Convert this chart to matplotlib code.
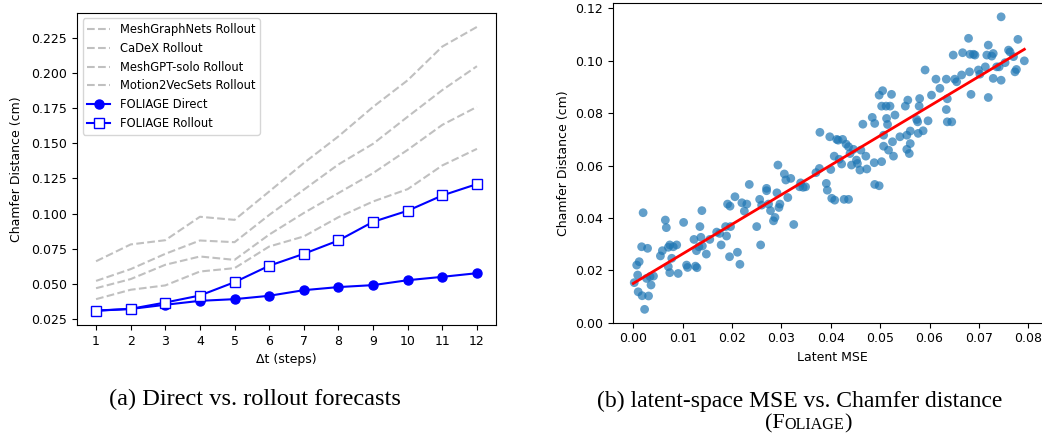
import matplotlib
matplotlib.use('Agg')
import matplotlib.pyplot as plt
from matplotlib.offsetbox import TextArea, HPacker, AnchoredOffsetbox

# left panel: error vs forecast horizon
steps = [1, 2, 3, 4, 5, 6, 7, 8, 9, 10, 11, 12]
meshgraphnets = [0.066, 0.078, 0.081, 0.0977, 0.0955, 0.1157, 0.136, 0.155, 0.176, 0.195, 0.219, 0.233]
cadex = [0.052, 0.0604, 0.0713, 0.0808, 0.0796, 0.099, 0.117, 0.135, 0.1497, 0.169, 0.188, 0.205]
meshgpt_solo = [0.0468, 0.0533, 0.0635, 0.0694, 0.067, 0.085, 0.1004, 0.1146, 0.1288, 0.1454, 0.1632, 0.176]
motion2vecsets = [0.039, 0.0457, 0.0488, 0.0587, 0.0611, 0.0765, 0.0837, 0.0974, 0.1086, 0.1174, 0.1343, 0.1461]
foliage_direct = [0.0309, 0.032, 0.035, 0.0378, 0.039, 0.0414, 0.0454, 0.0476, 0.049, 0.0525, 0.0549, 0.0575]
foliage_rollout = [0.0307, 0.0321, 0.0366, 0.0416, 0.0511, 0.0628, 0.0713, 0.0808, 0.0941, 0.102, 0.1129, 0.121]

# right panel: latent MSE vs chamfer distance
latent_mse = [
    0.0002, 0.0007, 0.0012, 0.0009, 0.001, 0.0018, 0.0023, 0.002, 0.0017, 0.0029,
    0.0031, 0.0027, 0.0036, 0.0041, 0.0034, 0.0055, 0.0059, 0.0065, 0.0067, 0.0071,
    0.0074, 0.0071, 0.0074, 0.0078, 0.0081, 0.0088, 0.0091, 0.0102, 0.0108, 0.011,
    0.0123, 0.0128, 0.0126, 0.0129, 0.0135, 0.0139, 0.0137, 0.0133, 0.014, 0.0148,
    0.0155, 0.0169, 0.0175, 0.0178, 0.0187, 0.0189, 0.0191, 0.0196, 0.0197, 0.0195,
    0.0206, 0.0211, 0.0216, 0.022, 0.0225, 0.023, 0.0235, 0.025, 0.0256, 0.0258,
    0.026, 0.027, 0.027, 0.0274, 0.0278, 0.0284, 0.0287, 0.0291, 0.0293, 0.0297,
    0.0295, 0.0306, 0.0309, 0.0313, 0.0319, 0.0325, 0.0337, 0.0339, 0.0344, 0.0349,
    0.037, 0.0378, 0.0377, 0.0391, 0.0393, 0.0398, 0.0402, 0.04, 0.0408, 0.0407,
    0.0412, 0.0415, 0.0417, 0.0422, 0.0424, 0.0427, 0.0431, 0.0436, 0.0436, 0.0439,
    0.0442, 0.0446, 0.0452, 0.0454, 0.0459, 0.0461, 0.0465, 0.0471, 0.0473, 0.0484,
    0.0488, 0.0489, 0.0489, 0.0498, 0.0498, 0.0503, 0.0505, 0.0503, 0.0507, 0.0507,
    0.0512, 0.0513, 0.0515, 0.0517, 0.052, 0.0523, 0.0525, 0.0527, 0.053, 0.054,
    0.0551, 0.0554, 0.0556, 0.0554, 0.0559, 0.0561, 0.0561, 0.0574, 0.0576, 0.0579,
    0.058, 0.0577, 0.0587, 0.0597, 0.0591, 0.0604, 0.0613, 0.0621, 0.0634, 0.0636,
    0.0634, 0.0636, 0.0645, 0.0648, 0.0651, 0.0655, 0.0665, 0.0667, 0.0679, 0.0682,
    0.0684, 0.0681, 0.0689, 0.0692, 0.0699, 0.0702, 0.0713, 0.0716, 0.0719, 0.0719,
    0.0726, 0.0729, 0.0729, 0.0741, 0.0745, 0.0745, 0.0753, 0.076, 0.0763, 0.077,
    0.0773, 0.0776, 0.0779, 0.0792, 0.0736]
chamfer = [
    0.0153, 0.022, 0.0233, 0.0182, 0.0118, 0.0103, 0.0051, 0.042, 0.029, 0.0284,
    0.0102, 0.0169, 0.0144, 0.0178, 0.0176, 0.0255, 0.0275, 0.0392, 0.0363, 0.0288,
    0.0297, 0.0214, 0.0191, 0.0246, 0.029, 0.0297, 0.0188, 0.0383, 0.022, 0.0211,
    0.0318, 0.0275, 0.0216, 0.021, 0.0367, 0.0428, 0.0326, 0.029, 0.0293, 0.0262,
    0.0318, 0.0346, 0.0341, 0.0297, 0.0367, 0.0331, 0.0453, 0.0445, 0.0367, 0.0252,
    0.0481, 0.0269, 0.0223, 0.0458, 0.0426, 0.0453, 0.0528, 0.0367, 0.0471, 0.0297,
    0.0449, 0.0513, 0.0504, 0.0453, 0.0428, 0.0389, 0.0402, 0.0496, 0.0602, 0.0453,
    0.044, 0.0568, 0.0545, 0.0478, 0.0551, 0.0375, 0.0519, 0.0534, 0.0517, 0.0519,
    0.0573, 0.0727, 0.0589, 0.0532, 0.0506, 0.071, 0.0475, 0.0585, 0.0468, 0.0636,
    0.07, 0.0697, 0.0624, 0.0606, 0.07, 0.0471, 0.0682, 0.0471, 0.0672, 0.0646,
    0.0602, 0.0662, 0.0621, 0.0608, 0.0583, 0.0659, 0.0758, 0.0636, 0.0587, 0.0784,
    0.0611, 0.0761, 0.0528, 0.0523, 0.0869, 0.0615, 0.0886, 0.0827, 0.0716, 0.0674,
    0.0827, 0.078, 0.0757, 0.0659, 0.0827, 0.0872, 0.0691, 0.0636, 0.0793, 0.071,
    0.0827, 0.0716, 0.085, 0.0662, 0.0646, 0.0684, 0.0732, 0.0776, 0.0767, 0.0827,
    0.0856, 0.0723, 0.0733, 0.0771, 0.0965, 0.0869, 0.093, 0.0895, 0.093, 0.0855,
    0.0814, 0.0767, 0.0767, 0.1022, 0.093, 0.092, 0.0946, 0.1031, 0.1086, 0.1025,
    0.0872, 0.0958, 0.1025, 0.1022, 0.0965, 0.0949, 0.0977, 0.1022, 0.106, 0.086,
    0.1018, 0.1028, 0.0933, 0.0977, 0.1168, 0.0926, 0.0993, 0.1041, 0.1034, 0.1016,
    0.0958, 0.0967, 0.1082, 0.1, 0.0977]
fit_x = [0.0, 0.0792]
fit_y = [0.0150, 0.1044]

W, H = 1042, 436
fig = plt.figure(figsize=(W / 100, H / 100), dpi=100)

tick_fs = 9
label_fs = 9

# --- (a) ---
ax1 = fig.add_axes([77 / W, 1 - 325 / H, 419 / W, 312.3 / H])
gray = '#c0c0c0'
ax1.plot(steps, meshgraphnets, '--', color=gray, lw=1.5, label='MeshGraphNets Rollout')
ax1.plot(steps, cadex, '--', color=gray, lw=1.5, label='CaDeX Rollout')
ax1.plot(steps, meshgpt_solo, '--', color=gray, lw=1.5, label='MeshGPT-solo Rollout')
ax1.plot(steps, motion2vecsets, '--', color=gray, lw=1.5, label='Motion2VecSets Rollout')
ax1.plot(steps, foliage_direct, '-o', color='blue', lw=1.5, ms=6.5, label='FOLIAGE Direct')
ax1.plot(steps, foliage_rollout, '-s', color='blue', lw=1.5, ms=6.5,
         markerfacecolor='white', markeredgecolor='blue', label='FOLIAGE Rollout')
ax1.set_xticks(steps)
ax1.set_xlabel('Δt (steps)', fontsize=label_fs)
ax1.set_ylabel('Chamfer Distance (cm)', fontsize=label_fs, labelpad=6)
ax1.tick_params(labelsize=tick_fs)
ax1.legend(loc='upper left', fontsize=8.3)

# --- (b) --- right spine falls just outside the picture, as in the paper crop
ax2 = fig.add_axes([613 / W, 1 - 322.7 / H, 438 / W, 320 / H])
ax2.scatter(latent_mse, chamfer, s=40, color='#1f77b4', alpha=0.7, edgecolors='none')
ax2.plot(fit_x, fit_y, color='red', lw=2)
ax2.set_xlim(-0.0041, 0.0846)
ax2.set_ylim(0, 0.1222)
ax2.set_xticks([0.0, 0.01, 0.02, 0.03, 0.04, 0.05, 0.06, 0.07, 0.08])
ax2.set_yticks([0.0, 0.02, 0.04, 0.06, 0.08, 0.10, 0.12])
ax2.set_xlabel('Latent MSE', fontsize=label_fs)
ax2.set_ylabel('Chamfer Distance (cm)', fontsize=label_fs)
ax2.tick_params(labelsize=tick_fs)

# captions
serif = 'Liberation Serif'
fig.text(254.5 / W, 1 - 405 / H, '(a) Direct vs. rollout forecasts', family=serif,
         fontsize=17.6, ha='center', va='baseline')
fig.text(800 / W, 1 - 407 / H, '(b) latent-space MSE vs. Chamfer distance', family=serif,
         fontsize=17, ha='center', va='baseline')

# small caps (FOLIAGE)
parts = [('(F', 16), ('OLIAGE', 11.6), (')', 16)]
boxes = [TextArea(t, textprops=dict(family=serif, fontsize=fs)) for t, fs in parts]
pack = HPacker(children=boxes, align='baseline', pad=0, sep=0)
anchored = AnchoredOffsetbox(loc='center', child=pack, pad=0, borderpad=0, frameon=False,
                             bbox_to_anchor=(808 / W, 1 - 424 / H),
                             bbox_transform=fig.transFigure)
fig.add_artist(anchored)

fig.savefig('out.png', dpi=100)
